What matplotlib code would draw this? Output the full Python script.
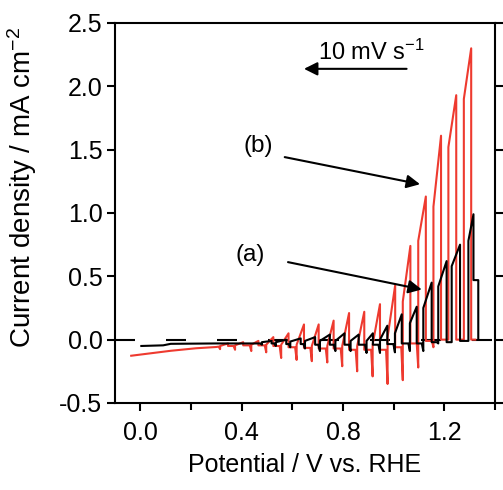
import matplotlib
matplotlib.use("Agg")
import matplotlib.pyplot as plt
from matplotlib.ticker import MultipleLocator

plt.rcParams['font.family'] = ['Liberation Sans', 'DejaVu Sans']
plt.rcParams['mathtext.fontset'] = 'custom'
plt.rcParams['mathtext.rm'] = 'Liberation Sans'
plt.rcParams['mathtext.default'] = 'regular'

# chopped-light LSV, scanned from high to low potential
# (b) red curve: light-on / light-off positions and current levels per chop
red_on_v = [1.306, 1.247, 1.187, 1.127, 1.066, 1.006, 0.946, 0.884, 0.824,
            0.763, 0.704, 0.646, 0.585, 0.525, 0.466, 0.406, 0.346]
red_peak = [2.30, 1.93, 1.61, 1.13, 0.74, 0.43, 0.28, 0.22, 0.21,
            0.15, 0.12, 0.12, 0.05, 0.02, -0.01, -0.02, -0.03]
red_off_v = [1.277, 1.216, 1.157, 1.097, 1.036, 0.976, 0.917, 0.856, 0.797,
             0.738, 0.677, 0.617, 0.556, 0.497, 0.438, 0.374, 0.315]
red_on_end = [1.90, 1.52, 1.05, 0.78, 0.30, 0.02, -0.04, -0.05, -0.05,
              -0.05, -0.05, -0.04, -0.04, -0.04, -0.04, -0.045, -0.05]
red_neg = [0.0, 0.0, -0.06, -0.22, -0.32, -0.35, -0.29, -0.25, -0.21,
           -0.18, -0.17, -0.16, -0.145, -0.10, -0.09, -0.08, -0.075]
red_dark = [0.0, 0.0, -0.01, -0.03, -0.06, -0.08, -0.08, -0.08, -0.07,
            -0.07, -0.065, -0.06, -0.05, -0.045, -0.045, -0.05, -0.055]
red_head_v = [1.322]
red_head_j = [0.0]
red_tail_v = [0.30, 0.22, 0.12, 0.04, -0.036]
red_tail_j = [-0.058, -0.068, -0.088, -0.108, -0.127]

# (a) black curve
black_on_v = [1.315, 1.262, 1.209, 1.150, 1.091, 1.032, 0.975, 0.918, 0.862,
              0.806, 0.748, 0.690, 0.633, 0.576, 0.518]
black_peak = [0.99, 0.75, 0.62, 0.45, 0.26, 0.20, 0.11, 0.05, 0.04,
              0.05, 0.04, 0.02, 0.01, 0.0, -0.01]
black_off_v = [1.295, 1.229, 1.176, 1.117, 1.064, 1.005, 0.946, 0.893, 0.830,
               0.770, 0.709, 0.650, 0.592, 0.535, 0.480]
black_on_end = [0.78, 0.58, 0.42, 0.25, 0.13, 0.05, 0.0, -0.01, -0.01,
                -0.01, -0.01, -0.01, -0.015, -0.02, -0.02]
black_neg = [-0.01, -0.02, -0.03, -0.09, -0.09, -0.10, -0.105, -0.105, -0.09,
             -0.09, -0.09, -0.07, -0.06, -0.05, -0.04]
black_dark = [-0.01, -0.02, -0.02, -0.03, -0.03, -0.035, -0.04, -0.04, -0.04,
              -0.04, -0.04, -0.035, -0.035, -0.03, -0.03]
black_head_v = [1.334, 1.334, 1.318]
black_head_j = [0.0, 0.47, 0.47]
black_tail_v = [0.45, 0.30, 0.12, 0.09, 0.004]
black_tail_j = [-0.03, -0.03, -0.033, -0.045, -0.05]


def chop_trace(head_v, head_j, on_v, peak, off_v, on_end, neg, dark, tail_v, tail_j):
    xs, ys = list(head_v), list(head_j)
    prev = head_j[-1]
    for k in range(len(on_v)):
        # light on: jump to peak, decay to on_end, light off: negative spike, recover
        xs += [on_v[k], on_v[k], off_v[k], off_v[k], off_v[k] - 0.006]
        ys += [prev, peak[k], on_end[k], neg[k], dark[k]]
        prev = dark[k]
    xs += tail_v
    ys += tail_j
    return xs, ys


red_x, red_y = chop_trace(red_head_v, red_head_j, red_on_v, red_peak, red_off_v,
                          red_on_end, red_neg, red_dark, red_tail_v, red_tail_j)
blk_x, blk_y = chop_trace(black_head_v, black_head_j, black_on_v, black_peak, black_off_v,
                          black_on_end, black_neg, black_dark, black_tail_v, black_tail_j)

fig = plt.figure(figsize=(5.03, 4.90), dpi=100)
ax = fig.add_axes([0.2286, 0.1776, 0.7555, 0.7755])

lw = 1.5
ax.axhline(0, color='k', lw=lw, linestyle=(0, (20 * 0.72 / lw, 31 * 0.72 / lw)), zorder=1)
ax.plot(red_x, red_y, color='#ee3a2f', lw=lw, zorder=2)
ax.plot(blk_x, blk_y, color='k', lw=lw, zorder=3)

ax.set_xlim(-0.1, 1.4)
ax.set_ylim(-0.5, 2.5)
ax.xaxis.set_major_locator(MultipleLocator(0.4))
ax.xaxis.set_minor_locator(MultipleLocator(0.2))
ax.yaxis.set_major_locator(MultipleLocator(0.5))
ax.xaxis.set_major_formatter(plt.FormatStrFormatter('%.1f'))
ax.yaxis.set_major_formatter(plt.FormatStrFormatter('%.1f'))
ax.tick_params(which='both', direction='out', width=1.5, labelsize=18, right=True, top=False)
ax.tick_params(which='major', length=6)
ax.tick_params(which='minor', length=5)
ax.tick_params(axis='x', pad=7)
ax.tick_params(axis='y', pad=3)
for s in ax.spines.values():
    s.set_linewidth(1.5)

ax.set_xlabel('Potential / V vs. RHE', fontsize=18, labelpad=6)
ax.set_ylabel('Current density / mA cm$^{-2}$', fontsize=20)
ax.yaxis.set_label_coords(-0.2, 0.568)

arrow = dict(arrowstyle='-|>', color='k', lw=1.5, mutation_scale=20, shrinkA=0, shrinkB=0)
ax.text(0.914, 2.27, '10 mV s$^{-1}$', fontsize=17, ha='center', va='center')
ax.annotate('', xy=(0.646, 2.138), xytext=(1.051, 2.138), arrowprops=arrow)
ax.text(0.464, 1.528, '(b)', fontsize=17.5, ha='center', va='center')
ax.annotate('', xy=(1.104, 1.227), xytext=(0.570, 1.441), arrowprops=arrow)
ax.text(0.432, 0.665, '(a)', fontsize=17.5, ha='center', va='center')
ax.annotate('', xy=(1.111, 0.396), xytext=(0.583, 0.612), arrowprops=arrow)

fig.savefig('out.png', dpi=100)
